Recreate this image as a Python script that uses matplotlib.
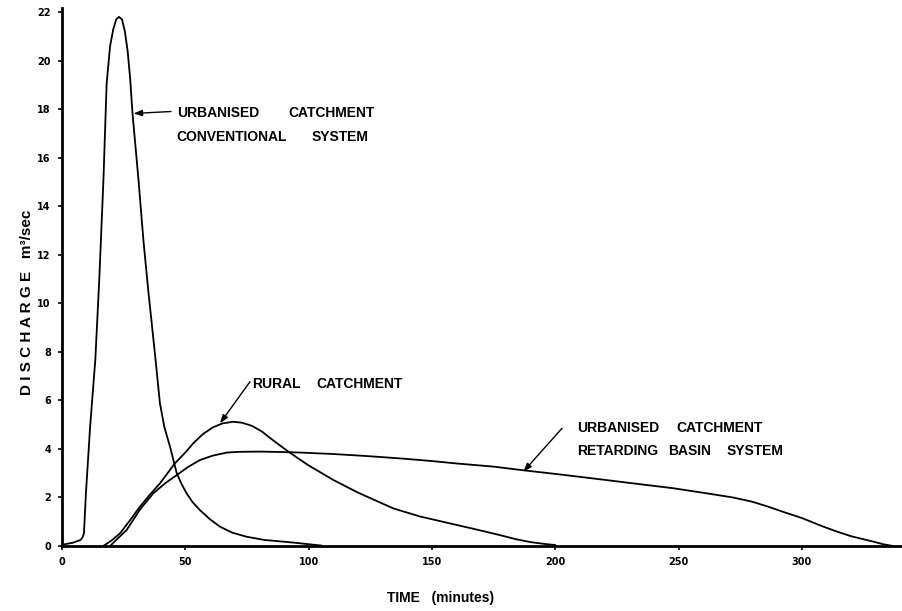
import matplotlib
matplotlib.use("Agg")
import matplotlib.pyplot as plt

# ---- data (time in minutes, discharge in m3/s) ----
conv_t = [0, 4.6, 7.5, 8.3, 8.9, 9.7, 11.4, 13.5, 15.1, 16.8, 18.1, 19.5, 20.8, 22.0,
          23.1, 24.3, 25.5, 26.6, 27.6, 28.6, 31.0, 33.0, 35.0, 37.7, 39.7, 41.5,
          43.8, 46.5, 48.5, 50.5, 53.0, 55.9, 60.0, 64.0, 69.0, 74.9, 82.0, 93.8, 105.0]
conv_q = [0.05, 0.14, 0.25, 0.35, 0.52, 2.17, 4.92, 7.66, 10.96, 15.1, 19.06, 20.6, 21.3, 21.7,
          21.8, 21.7, 21.2, 20.4, 19.3, 17.8, 15.1, 12.6, 10.5, 7.9, 5.88, 4.9,
          4.09, 3.0, 2.55, 2.17, 1.8, 1.48, 1.1, 0.8, 0.55, 0.38, 0.25, 0.14, 0.02]

rural_t = [16.7, 20.0, 23.5, 27.5, 31.6, 35.5, 39.7, 45.8, 50.0, 53.2, 57.0, 61.0, 65.0,
           69.4, 73.0, 77.0, 81.0, 85.0, 90.0, 95.0, 100.0, 110.0, 120.0, 134.3, 145.0,
           157.3, 168.0, 177.5, 184.0, 190.0, 196.0, 200.0, 200.0]
rural_q = [0.0, 0.22, 0.52, 1.05, 1.62, 2.10, 2.58, 3.41, 3.85, 4.23, 4.60, 4.88, 5.05,
           5.12, 5.08, 4.95, 4.72, 4.40, 4.02, 3.66, 3.32, 2.72, 2.20, 1.55, 1.22,
           0.93, 0.68, 0.45, 0.28, 0.16, 0.08, 0.04, 0.0]

ret_t = [19.5, 22.5, 26.2, 31.6, 37.0, 42.0, 46.5, 51.0, 55.9, 61.0, 66.8, 72.0, 80.3,
         90.0, 96.5, 110.0, 123.0, 137.0, 150.0, 160.0, 175.0, 187.0, 200.0, 214.0,
         230.0, 247.8, 262.0, 272.0, 280.0, 286.0, 292.0, 300.0, 308.6, 314.0, 320.0,
         328.9, 333.0, 337.0]
ret_q = [0.0, 0.30, 0.66, 1.50, 2.17, 2.60, 2.92, 3.25, 3.54, 3.72, 3.85, 3.88, 3.89,
         3.87, 3.85, 3.79, 3.71, 3.61, 3.50, 3.40, 3.27, 3.12, 2.97, 2.80,
         2.60, 2.38, 2.16, 2.00, 1.82, 1.63, 1.42, 1.15, 0.80, 0.60, 0.40,
         0.18, 0.07, 0.0]

x_ticks = [0, 50, 100, 150, 200, 250, 300]
y_ticks = [0, 2, 4, 6, 8, 10, 12, 14, 16, 18, 20, 22]

# ---- figure ----
W, H = 902, 611
fig = plt.figure(figsize=(W / 100, H / 100), dpi=100)
X0, Y0 = 62, 546          # pixel of (0,0)
SX, SY = 740 / 300, 24.27  # px per unit
xmax = (W - X0) / SX
ymax = 22.15
ax = fig.add_axes([X0 / W, 1 - Y0 / H, (W - X0) / W, ymax * SY / H])
ax.set_xlim(0, xmax)
ax.set_ylim(0, ymax)

def P(px, py):
    return (px - X0) / SX, (Y0 - py) / SY

lw = 1.3
ax.plot(conv_t, conv_q, color="black", lw=lw, solid_joinstyle="round")
ax.plot(rural_t, rural_q, color="black", lw=lw, solid_joinstyle="round")
ax.plot(ret_t, ret_q, color="black", lw=lw, solid_joinstyle="round")

for s in ["top", "right"]:
    ax.spines[s].set_visible(False)
for s in ["left", "bottom"]:
    ax.spines[s].set_linewidth(2.0)

ax.set_xticks(x_ticks)
ax.set_yticks(y_ticks)
ax.tick_params(axis="both", direction="out", length=3, width=1.2, color="black")
ax.tick_params(axis="y", pad=5)
ax.tick_params(axis="x", pad=5)
for lab in ax.get_xticklabels() + ax.get_yticklabels():
    lab.set_fontfamily("DejaVu Sans")
    lab.set_fontweight("bold")
    lab.set_fontsize(7)

tf = dict(fontfamily="Liberation Sans", fontweight="bold", fontsize=10,
          va="center", ha="left", color="black")

def words(items, py):
    for w, px in items:
        x, y = P(px, py)
        ax.text(x, y, w, **tf)

# conventional
words([("URBANISED", 176.7), ("CATCHMENT", 288)], 113.3)
words([("CONVENTIONAL", 176.7), ("SYSTEM", 311.7)], 136.7)
# rural
words([("RURAL", 251.7), ("CATCHMENT", 316.7)], 384)
# retarding
words([("URBANISED", 576.7), ("CATCHMENT", 676.7)], 428.3)
words([("RETARDING", 576.7), ("BASIN", 668.3), ("SYSTEM", 726.7)], 451)

ap = dict(arrowstyle="-|>,head_length=0.5,head_width=0.18", color="black", lw=1.0,
          shrinkA=0, shrinkB=0)
ax.annotate("", xy=P(133.5, 113.5), xytext=P(171, 111.5), arrowprops=ap)
ax.annotate("", xy=P(220, 423.3), xytext=P(250, 381.7), arrowprops=ap)
ax.annotate("", xy=P(523.3, 471.7), xytext=P(562, 428.3), arrowprops=ap)

# axis labels
fig.text(27 / W, 1 - 302 / H, "D I S C H A R G E   m\u00b3/sec", rotation=90,
         ha="center", va="center", fontfamily="Liberation Sans", fontweight="bold",
         fontsize=11)
fig.text(441 / W, 1 - 598 / H, "TIME   (minutes)", ha="center", va="center",
         fontfamily="Liberation Sans", fontweight="bold", fontsize=10)

fig.savefig("out.png", dpi=100)
